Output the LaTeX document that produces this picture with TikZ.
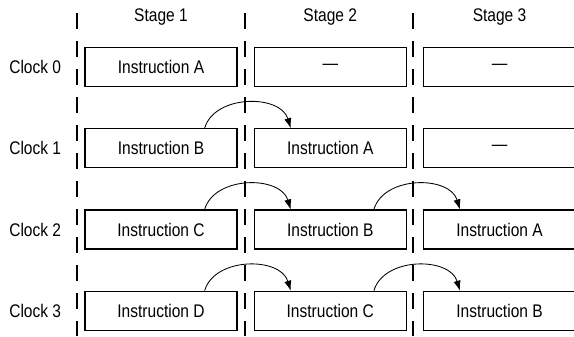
\documentclass[tikz,border=0pt]{standalone}
\usepackage{fontspec}
\setmainfont[FakeStretch=0.85]{Liberation Sans}
\usepackage{tikz}
\usetikzlibrary{arrows.meta, positioning, calc}

\begin{document}
\begin{tikzpicture}[
    node distance=1.025cm and 0.4cm,
    box/.style={rectangle, draw, line width=0.9pt, minimum width=3.8cm,
                minimum height=0.975cm, inner sep=0pt,
                font=\fontsize{13}{15}\selectfont},
    clk/.style={font=\fontsize{13}{15}\selectfont, inner sep=0pt},
    stg/.style={font=\fontsize{13}{15}\selectfont, inner sep=0pt},
    divider/.style={line width=0.8pt, dash pattern=on 0.4cm off 0.3cm},
    arrow/.style={-{Latex[length=2.5mm, width=1.8mm]}, line width=0.6pt}
]
\useasboundingbox (0,0) rectangle (14.35,-8.4);

% Clock 0
\node[box] (r0s1) at (4.025,-1.675) {Instruction A};
\node[box, right=of r0s1] (r0s2) {\textemdash};
\node[box, right=of r0s2] (r0s3) {\textemdash};

% Clock 1
\node[box, below=of r0s1] (r1s1) {Instruction B};
\node[box, right=of r1s1] (r1s2) {Instruction A};
\node[box, right=of r1s2] (r1s3) {\textemdash};

% Clock 2
\node[box, below=of r1s1] (r2s1) {Instruction C};
\node[box, right=of r2s1] (r2s2) {Instruction B};
\node[box, right=of r2s2] (r2s3) {Instruction A};

% Clock 3
\node[box, below=of r2s1] (r3s1) {Instruction D};
\node[box, right=of r3s1] (r3s2) {Instruction C};
\node[box, right=of r3s2] (r3s3) {Instruction B};

% Row and column labels
\node[clk, left=0.575cm of r0s1] (clk0) {Clock 0};
\node[clk, left=0.575cm of r1s1] (clk1) {Clock 1};
\node[clk, left=0.575cm of r2s1] (clk2) {Clock 2};
\node[clk, left=0.575cm of r3s1] (clk3) {Clock 3};

\node[stg, above=0.52cm of r0s1] (stg1) {Stage 1};
\node[stg, above=0.52cm of r0s2] (stg2) {Stage 2};
\node[stg, above=0.52cm of r0s3] (stg3) {Stage 3};

% Stage dividers
\coordinate (d1t) at (1.925,-0.325);
\coordinate (d1b) at (1.925,-8.4);
\coordinate (d2t) at (6.125,-0.325);
\coordinate (d2b) at (6.125,-8.4);
\coordinate (d3t) at (10.325,-0.325);
\coordinate (d3b) at (10.325,-8.4);
\draw[divider] (d1t) -- (d1b);
\draw[divider] (d2t) -- (d2b);
\draw[divider] (d3t) -- (d3b);

% Hand-over arcs
\draw[arrow] ([xshift=-0.825cm]r1s1.north east) .. controls +(0.25,0.85) and +(-0.25,0.85) .. ([xshift=0.925cm]r1s2.north west);
\draw[arrow] ([xshift=-0.825cm]r2s1.north east) .. controls +(0.25,0.85) and +(-0.25,0.85) .. ([xshift=0.925cm]r2s2.north west);
\draw[arrow] ([xshift=-0.825cm]r2s2.north east) .. controls +(0.25,0.85) and +(-0.25,0.85) .. ([xshift=0.925cm]r2s3.north west);
\draw[arrow] ([xshift=-0.825cm]r3s1.north east) .. controls +(0.25,0.85) and +(-0.25,0.85) .. ([xshift=0.925cm]r3s2.north west);
\draw[arrow] ([xshift=-0.825cm]r3s2.north east) .. controls +(0.25,0.85) and +(-0.25,0.85) .. ([xshift=0.925cm]r3s3.north west);

\end{tikzpicture}
\end{document}
